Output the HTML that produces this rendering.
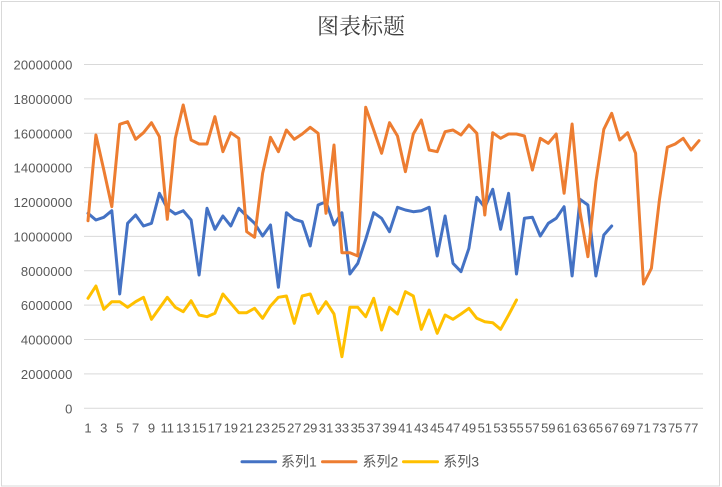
<!DOCTYPE html>
<html>
<head>
<meta charset="utf-8">
<style>
html,body{margin:0;padding:0;background:#fff;}
svg{display:block;}
</style>
</head>
<body>
<svg width="722" height="487" viewBox="0 0 722 487" xmlns="http://www.w3.org/2000/svg">
<rect x="0" y="0" width="722" height="487" fill="#fff"/>
<rect x="1.5" y="1.5" width="718" height="484.5" fill="none" stroke="#d9d9d9" stroke-width="1"/>
<text x="361" y="34" text-anchor="middle" font-family="'Liberation Serif','Noto Serif CJK SC',serif" font-size="22" fill="#404040">图表标题</text>
<g stroke="#d9d9d9" stroke-width="1">
<line x1="84" y1="64.5" x2="703" y2="64.5"/>
<line x1="84" y1="98.9" x2="703" y2="98.9"/>
<line x1="84" y1="133.3" x2="703" y2="133.3"/>
<line x1="84" y1="167.6" x2="703" y2="167.6"/>
<line x1="84" y1="202" x2="703" y2="202"/>
<line x1="84" y1="236.4" x2="703" y2="236.4"/>
<line x1="84" y1="270.8" x2="703" y2="270.8"/>
<line x1="84" y1="305.1" x2="703" y2="305.1"/>
<line x1="84" y1="339.5" x2="703" y2="339.5"/>
<line x1="84" y1="373.9" x2="703" y2="373.9"/>
<line x1="84" y1="408.3" x2="703" y2="408.3"/>
</g>
<g font-family="'Liberation Sans',sans-serif" font-size="13" fill="#595959" text-anchor="end" letter-spacing="0.15">
<text x="72.5" y="69.5">20000000</text>
<text x="72.5" y="103.9">18000000</text>
<text x="72.5" y="138.3">16000000</text>
<text x="72.5" y="172.6">14000000</text>
<text x="72.5" y="207">12000000</text>
<text x="72.5" y="241.4">10000000</text>
<text x="72.5" y="275.8">8000000</text>
<text x="72.5" y="310.1">6000000</text>
<text x="72.5" y="344.5">4000000</text>
<text x="72.5" y="378.9">2000000</text>
<text x="72.5" y="413.3">0</text>
</g>
<g font-family="'Liberation Sans',sans-serif" font-size="13" fill="#595959" text-anchor="middle">
<text x="88.0" y="432.5">1</text>
<text x="103.8" y="432.5">3</text>
<text x="119.7" y="432.5">5</text>
<text x="135.6" y="432.5">7</text>
<text x="151.5" y="432.5">9</text>
<text x="167.3" y="432.5">11</text>
<text x="183.2" y="432.5">13</text>
<text x="199.1" y="432.5">15</text>
<text x="214.9" y="432.5">17</text>
<text x="230.8" y="432.5">19</text>
<text x="246.7" y="432.5">21</text>
<text x="262.6" y="432.5">23</text>
<text x="278.4" y="432.5">25</text>
<text x="294.3" y="432.5">27</text>
<text x="310.2" y="432.5">29</text>
<text x="326.0" y="432.5">31</text>
<text x="341.9" y="432.5">33</text>
<text x="357.8" y="432.5">35</text>
<text x="373.7" y="432.5">37</text>
<text x="389.5" y="432.5">39</text>
<text x="405.4" y="432.5">41</text>
<text x="421.3" y="432.5">43</text>
<text x="437.2" y="432.5">45</text>
<text x="453.0" y="432.5">47</text>
<text x="468.9" y="432.5">49</text>
<text x="484.8" y="432.5">51</text>
<text x="500.6" y="432.5">53</text>
<text x="516.5" y="432.5">55</text>
<text x="532.4" y="432.5">57</text>
<text x="548.3" y="432.5">59</text>
<text x="564.1" y="432.5">61</text>
<text x="580.0" y="432.5">63</text>
<text x="595.9" y="432.5">65</text>
<text x="611.7" y="432.5">67</text>
<text x="627.6" y="432.5">69</text>
<text x="643.5" y="432.5">71</text>
<text x="659.4" y="432.5">73</text>
<text x="675.2" y="432.5">75</text>
<text x="691.1" y="432.5">77</text>
</g>
<g fill="none" stroke-width="3" stroke-linejoin="round" stroke-linecap="round">
<polyline stroke="#4472C4" points="88.0,213.3 95.9,220 103.8,217.3 111.8,210.7 119.7,294 127.6,223.3 135.6,215 143.5,226 151.5,223.3 159.4,193.3 167.3,208.3 175.3,214 183.2,210.7 191.1,220 199.1,275 207.0,208.3 214.9,229.3 222.9,216 230.8,226 238.8,208.3 246.7,216 254.6,223.3 262.6,236 270.5,225 278.4,287.3 286.4,212.7 294.3,219.3 302.2,221.7 310.2,246 318.1,205 326.0,201.7 334.0,225 341.9,212.7 349.9,274 357.8,263.3 365.7,239.3 373.7,212.7 381.6,218.3 389.5,231.7 397.5,207.3 405.4,210 413.3,211.7 421.3,210.7 429.2,207.3 437.2,256 445.1,216 453.0,263.3 461.0,271.7 468.9,248.3 476.8,197.3 484.8,207.3 492.7,189.3 500.6,229.3 508.6,193.3 516.5,274 524.4,218.3 532.4,217.3 540.3,236 548.3,223.3 556.2,218.3 564.1,206.7 572.1,276 580.0,199.3 587.9,205 595.9,276 603.8,235 611.7,226"/>
<polyline stroke="#ED7D31" points="88.0,220.7 95.9,135 103.8,170 111.8,206.7 119.7,124.3 127.6,121.7 135.6,139.3 143.5,132.7 151.5,122.7 159.4,136.7 167.3,219.3 175.3,138.3 183.2,105 191.1,140 199.1,144 207.0,144 214.9,116.7 222.9,151.7 230.8,132.7 238.8,138.3 246.7,231.7 254.6,237.3 262.6,173.3 270.5,137.3 278.4,151.7 286.4,130 294.3,139.3 302.2,134 310.2,127.3 318.1,133.3 326.0,213.3 334.0,145 341.9,252.7 349.9,252.7 357.8,256 365.7,107.3 373.7,130 381.6,153.3 389.5,122.7 397.5,136 405.4,171.7 413.3,134 421.3,120 429.2,150 437.2,151.7 445.1,131.7 453.0,130 461.0,135 468.9,125 476.8,133.3 484.8,215 492.7,132.7 500.6,138.3 508.6,134 516.5,134 524.4,136 532.4,170 540.3,138.3 548.3,143.3 556.2,134 564.1,193.3 572.1,124 580.0,211.7 587.9,256.7 595.9,181.7 603.8,129.3 611.7,113.3 619.7,140 627.6,132.7 635.6,153.3 643.5,284 651.4,268.3 659.4,200 667.3,147.3 675.2,144 683.2,138.3 691.1,150 699.0,140.7"/>
<polyline stroke="#FFC000" points="88.0,298.3 95.9,286 103.8,309.3 111.8,301.7 119.7,301.7 127.6,307.3 135.6,301.7 143.5,297.3 151.5,319.3 159.4,308.3 167.3,297.3 175.3,307.3 183.2,311.7 191.1,300.7 199.1,315 207.0,316.7 214.9,313.3 222.9,294 230.8,303.3 238.8,312.7 246.7,312.7 254.6,308.3 262.6,318.3 270.5,306 278.4,297.3 286.4,296 294.3,323.3 302.2,296 310.2,294 318.1,313.3 326.0,301.7 334.0,314 341.9,356.7 349.9,307.3 357.8,307.3 365.7,316.7 373.7,298.3 381.6,330 389.5,307.3 397.5,314 405.4,291.7 413.3,296 421.3,329.3 429.2,310 437.2,333.3 445.1,315 453.0,319.3 461.0,314 468.9,308.3 476.8,318.3 484.8,321.7 492.7,322.7 500.6,329.3 508.6,315 516.5,300"/>
</g>
<g stroke-width="3" stroke-linecap="round">
<line x1="242" y1="461.7" x2="275.5" y2="461.7" stroke="#4472C4"/>
<line x1="322.5" y1="461.7" x2="356" y2="461.7" stroke="#ED7D31"/>
<line x1="403.5" y1="461.7" x2="437.5" y2="461.7" stroke="#FFC000"/>
</g>
<g font-family="'Liberation Sans','Noto Sans CJK SC',sans-serif" font-size="14" fill="#595959">
<text x="281" y="466.5">系列1</text>
<text x="362.5" y="466.5">系列2</text>
<text x="443.3" y="466.5">系列3</text>
</g>
</svg>
</body>
</html>
